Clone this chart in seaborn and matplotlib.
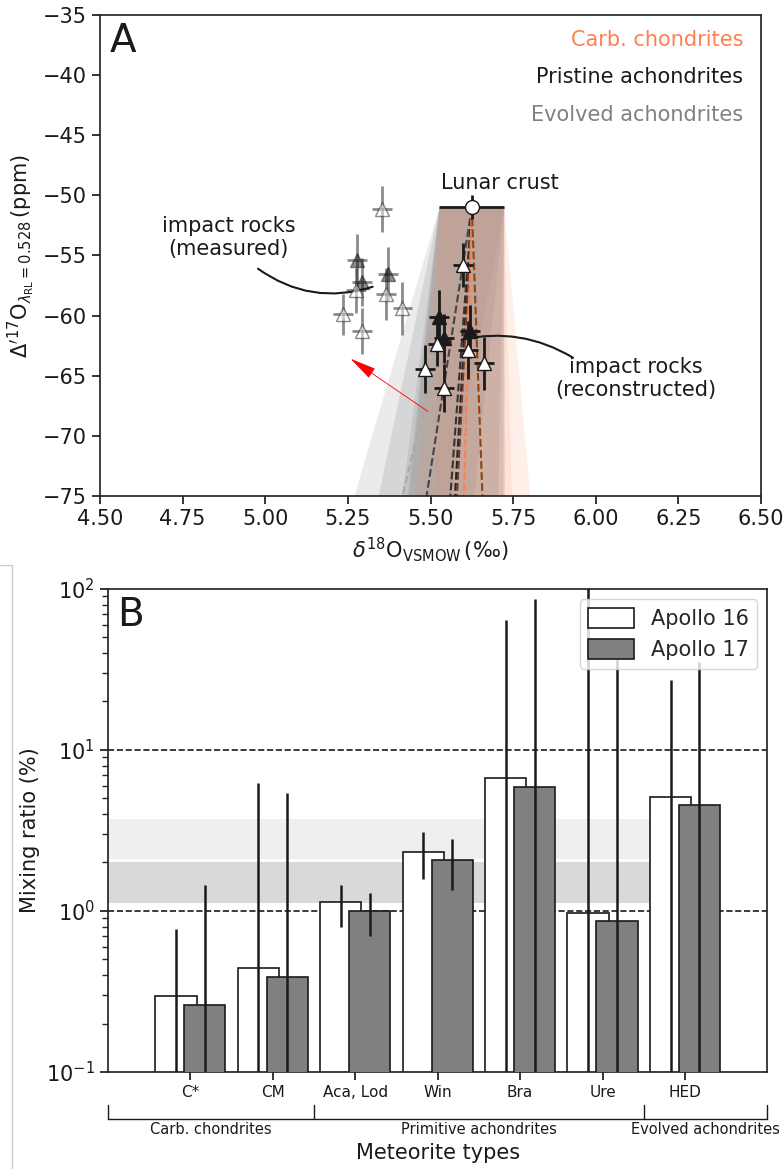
import numpy as np
import matplotlib
matplotlib.use("Agg")
import matplotlib.pyplot as plt
import matplotlib.transforms as mtransforms
from matplotlib.lines import Line2D
import seaborn as sns

sns.set_theme(style="ticks")
plt.rcParams["font.family"] = ["DejaVu Sans"]
plt.rcParams["mathtext.fontset"] = "dejavusans"

# ---------------- panel A data ----------------
# impact rocks as measured (faded)
meas_x = [5.352, 5.277, 5.292, 5.274, 5.372, 5.365, 5.415, 5.234, 5.292]
meas_y = [-51.15, -55.4, -57.2, -57.9, -56.5, -58.2, -59.4, -59.9, -61.3]
meas_yerr = [1.9, 2.2, 2.0, 1.9, 2.2, 2.2, 2.2, 1.7, 1.9]
meas_filled = [False, True, True, False, True, False, False, False, False]

# impact rocks reconstructed
rec_x = [5.599, 5.526, 5.542, 5.521, 5.620, 5.614, 5.483, 5.663, 5.541]
rec_y = [-55.8, -60.1, -61.9, -62.4, -61.3, -62.85, -64.45, -63.95, -66.0]
rec_yerr = [1.8, 2.2, 2.0, 1.8, 2.2, 2.4, 2.0, 2.2, 2.0]
rec_filled = [False, True, True, False, True, False, False, False, False]
xerr_pts = 0.03

# lunar crust
crust_x, crust_y = 5.625, -51.0
crust_xerr, crust_yerr = 0.098, 1.0

# mixing fans (edges at -75 ppm) and their centre lines
fan_lo = [5.27, 5.343, 5.415, 5.43, 5.435, 5.456, 5.512]
fan_hi = [5.56, 5.633, 5.705, 5.72, 5.725, 5.746, 5.802]
fan_colors = ["#bdbdbd", "#8c8c8c", "#8c8c8c", "#8c8c8c", "#8c8c8c", "coral", "coral"]
fan_alpha = [0.30, 0.22, 0.22, 0.22, 0.22, 0.12, 0.12]
line_end = [5.415, 5.488, 5.56, 5.574, 5.58, 5.601, 5.657]
line_colors = ["#aaaaaa", "#444444", "#333333", "#222222", "#6b3a2a", "coral", "#8b4513"]

arrow_tail = (5.499, -68.1)
arrow_head = (5.251, -63.45)

# ---------------- panel B data ----------------
types = ["C*", "CM", "Aca, Lod", "Win", "Bra", "Ure", "HED"]
a16 = [0.295, 0.441, 1.13, 2.34, 6.73, 0.976, 5.13]
a16_lo = [0.01, 0.01, 0.80, 1.57, 0.01, 0.01, 0.01]
a16_hi = [0.773, 6.21, 1.46, 3.11, 64.2, 200.0, 27.2]
a17 = [0.261, 0.391, 1.00, 2.07, 5.92, 0.863, 4.54]
a17_lo = [0.01, 0.01, 0.70, 1.35, 0.01, 0.01, 0.01]
a17_hi = [1.44, 5.38, 1.30, 2.79, 86.3, 40.0, 35.0]
groups = ["Carb. chondrites", "Primitive achondrites", "Evolved achondrites"]
group_edges = [-1, 1.5, 5.5, 7]

fig = plt.figure(figsize=(7.83, 11.69), dpi=100)
axA = fig.add_axes([0.1277, 0.5757, 0.8443, 0.4115])
axB = fig.add_axes([0.138, 0.083, 0.842, 0.4132])

# ---------- A ----------
top = crust_y
for lo, hi, c, a in zip(fan_lo, fan_hi, fan_colors, fan_alpha):
    axA.fill([crust_x - crust_xerr, crust_x + crust_xerr, hi, lo],
             [top, top, -75, -75], color=c, alpha=a, lw=0, zorder=1)
for xe, c in zip(line_end, line_colors):
    axA.plot([crust_x, xe], [crust_y, -75], ls="--", color=c, lw=1.5, zorder=2)

for x, y, ye, f in zip(meas_x, meas_y, meas_yerr, meas_filled):
    axA.errorbar(x, y, yerr=ye, xerr=xerr_pts, fmt="^", color="k", alpha=0.5,
                 mfc="k" if f else "white", mec="k", ms=10, elinewidth=2, zorder=3)
for x, y, ye, f in zip(rec_x, rec_y, rec_yerr, rec_filled):
    axA.errorbar(x, y, yerr=ye, xerr=xerr_pts, fmt="^", color="k",
                 mfc="k" if f else "white", mec="k", ms=10, elinewidth=2, zorder=4)

axA.errorbar(crust_x, crust_y, xerr=crust_xerr, yerr=crust_yerr, fmt="o", color="k",
             mfc="white", mec="k", ms=10, elinewidth=2, zorder=5)
axA.text(5.71, -49.0, "Lunar crust", ha="center", va="center", fontsize=15, color="k")

axA.annotate("", xy=arrow_head, xytext=arrow_tail,
             arrowprops=dict(arrowstyle="-|>,head_length=1.4,head_width=0.3",
                             color="red", lw=0.6))

axA.text(4.89, -53.5, "impact rocks\n(measured)", ha="center", va="center",
         fontsize=15, color="k")
axA.annotate("", xy=(5.325, -57.6), xytext=(4.978, -56.1),
             arrowprops=dict(arrowstyle="-", color="k", connectionstyle="arc3,rad=0.25",
                             lw=1.5, shrinkA=0, shrinkB=0))
axA.text(6.12, -65.2, "impact rocks\n(reconstructed)", ha="center", va="center",
         fontsize=15, color="k")
axA.annotate("", xy=(5.594, -62.0), xytext=(5.931, -63.5),
             arrowprops=dict(arrowstyle="-", color="k", connectionstyle="arc3,rad=0.2",
                             lw=1.5, shrinkA=0, shrinkB=0))

axA.text(0.973, 0.948, "Carb. chondrites", color="coral", ha="right", va="center",
         fontsize=15, transform=axA.transAxes)
axA.text(0.973, 0.871, "Pristine achondrites", color="k", ha="right", va="center",
         fontsize=15, transform=axA.transAxes)
axA.text(0.973, 0.792, "Evolved achondrites", color="gray", ha="right", va="center",
         fontsize=15, transform=axA.transAxes)
axA.text(0.014, 0.985, "A", ha="left", va="top", fontsize=28, color="k",
         transform=axA.transAxes)

axA.set_xlim(4.5, 6.5)
axA.set_ylim(-75, -35)
axA.set_xticks(np.arange(4.5, 6.51, 0.25))
axA.set_xticklabels([f"{v:.2f}" for v in np.arange(4.5, 6.51, 0.25)])
axA.set_yticks(np.arange(-75, -34, 5))
axA.tick_params(labelsize=15, colors="k")
axA.set_xlabel(r"$\delta^{18}\mathrm{O}_{\mathrm{VSMOW}}\,(‰)$", fontsize=15, color="k")
axA.set_ylabel(r"$\Delta'^{17}\mathrm{O}_{\lambda_{\mathrm{RL}}=0.528}\,(\mathrm{ppm})$",
               fontsize=15, color="k")

# ---------- B ----------
pos = np.arange(len(types))
off, w = 0.175, 0.5
axB.fill_between([-1, 6.0], 2.1, 3.7, color="#efefef", lw=0, zorder=0)
axB.fill_between([-1, 6.0], 1.12, 2.0, color="#d9d9d9", lw=0, zorder=0)
axB.axhline(10, color="k", ls="--", lw=1.2, zorder=1)
axB.axhline(1, color="k", ls="--", lw=1.2, zorder=1)

axB.bar(pos - off, a16, width=w, color="white", edgecolor="k", lw=1.2,
        label="Apollo 16", zorder=2)
axB.errorbar(pos - off, a16,
             yerr=[np.array(a16) - np.array(a16_lo), np.array(a16_hi) - np.array(a16)],
             fmt="none", ecolor="k", elinewidth=1.8, zorder=3)
axB.bar(pos + off, a17, width=w, color="gray", edgecolor="k", lw=1.2,
        label="Apollo 17", zorder=4)
axB.errorbar(pos + off, a17,
             yerr=[np.array(a17) - np.array(a17_lo), np.array(a17_hi) - np.array(a17)],
             fmt="none", ecolor="k", elinewidth=1.8, zorder=5)

axB.set_yscale("log")
axB.set_ylim(0.1, 100)
axB.set_xlim(-1, 7)
axB.set_xticks(pos)
axB.set_xticklabels(types, fontsize=11)
axB.tick_params(axis="y", labelsize=15)
axB.tick_params(colors="k")
axB.set_ylabel("Mixing ratio (%)", fontsize=15, color="k")
leg = axB.legend(loc="upper right", fontsize=15, handlelength=2.2, handleheight=1.1)
leg.set_zorder(6)
axB.text(0.014, 0.985, "B", ha="left", va="top", fontsize=28, color="k",
         transform=axB.transAxes)

# group brackets under the axis
trans = mtransforms.blended_transform_factory(axB.transData, axB.transAxes)
axB.plot([group_edges[0], group_edges[-1]], [-0.097, -0.097], color="k", lw=1,
         transform=trans, clip_on=False)
for e in group_edges:
    axB.plot([e, e], [-0.097, -0.068], color="k", lw=1, transform=trans, clip_on=False)
group_pos = [(a + b) / 2 for a, b in zip(group_edges[:-1], group_edges[1:])]
group_pos[-1] = 6.25
for g, x in zip(groups, group_pos):
    axB.text(x, -0.12, g, ha="center", va="center", fontsize=10.5, color="k",
             transform=trans)
axB.text(0.5, -0.168, "Meteorite types", ha="center", va="center", fontsize=15,
         color="k", transform=axB.transAxes)

# faint frame edge of the lower panel
fig.add_artist(Line2D([12 / 783, 12 / 783], [0, 1 - 565 / 1169], color="#cccccc", lw=1))
fig.add_artist(Line2D([0, 12 / 783], [1 - 565 / 1169, 1 - 565 / 1169], color="#cccccc", lw=1))

fig.savefig("out.png", dpi=100)
